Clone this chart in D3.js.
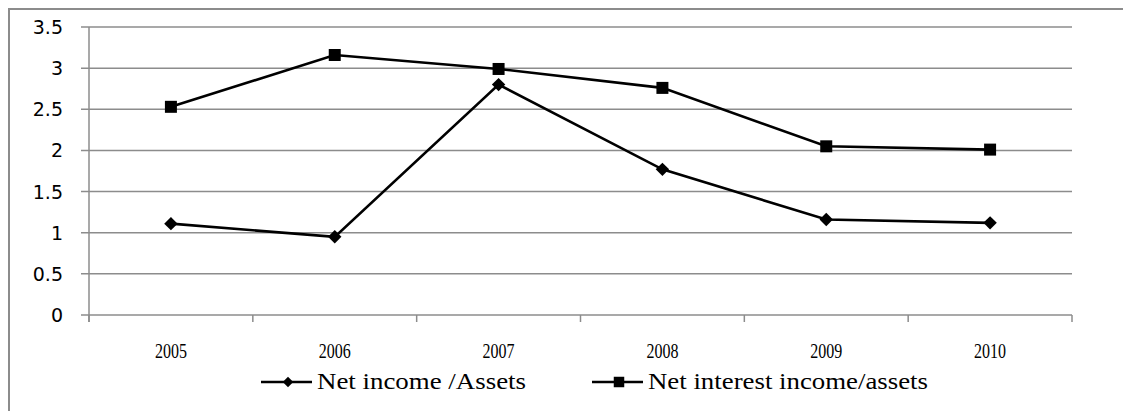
<!DOCTYPE html>
<meta charset="utf-8">
<style>
body { margin: 0; background: #fff; }
.grid line { stroke: #8c8c8c; stroke-width: 1.5; }
.ylab { font-family: "DejaVu Sans", sans-serif; font-size: 19px; fill: #000; }
.xlab { font-family: "Liberation Serif", "Times New Roman", serif; font-size: 22px; fill: #000; }
.leg { font-family: "Liberation Serif", "Times New Roman", serif; font-size: 23px; fill: #000; }
</style>
<svg width="1123" height="411"></svg>
<script src="https://cdn.jsdelivr.net/npm/d3@7"></script>
<script>

var years = ["2005", "2006", "2007", "2008", "2009", "2010"];
var netIncome = [1.11, 0.95, 2.80, 1.77, 1.16, 1.12];
var netInterest = [2.53, 3.16, 2.99, 2.76, 2.05, 2.01];
var yTicks = [0, 0.5, 1, 1.5, 2, 2.5, 3, 3.5];

var svg = d3.select("svg");

// outer frame (runs off the right and bottom edges)
svg.append("rect")
    .attr("x", 9).attr("y", 9)
    .attr("width", 1130).attr("height", 420)
    .attr("fill", "none")
    .attr("stroke", "#8c8c8c")
    .attr("stroke-width", 2);

var plotL = 89, plotR = 1072, plotT = 27, plotB = 315;

var x = d3.scaleBand().domain(years).range([plotL, plotR]);
var y = d3.scaleLinear().domain([0, 3.5]).range([plotB, plotT]);

// horizontal gridlines + left tick stubs
var grid = svg.append("g").attr("class", "grid");
grid.selectAll("line.h")
  .data(yTicks)
  .enter().append("line")
    .attr("class", "h")
    .attr("x1", plotL - 8)
    .attr("x2", plotR)
    .attr("y1", function(d) { return y(d); })
    .attr("y2", function(d) { return y(d); });

// y axis line
grid.append("line")
    .attr("x1", plotL).attr("x2", plotL)
    .attr("y1", plotT).attr("y2", plotB + 7);

// x tick marks at category boundaries
grid.selectAll("line.v")
  .data(d3.range(years.length + 1))
  .enter().append("line")
    .attr("class", "v")
    .attr("x1", function(i) { return plotL + i * x.step(); })
    .attr("x2", function(i) { return plotL + i * x.step(); })
    .attr("y1", plotB)
    .attr("y2", plotB + 7);

svg.selectAll("text.ylab")
  .data(yTicks)
  .enter().append("text")
    .attr("class", "ylab")
    .attr("x", 63)
    .attr("y", function(d) { return y(d) + 7; })
    .attr("text-anchor", "end")
    .text(function(d) { return d; });

svg.selectAll("text.xlab")
  .data(years)
  .enter().append("text")
    .attr("class", "xlab")
    .attr("x", function(d) { return x(d) + x.bandwidth() / 2; })
    .attr("y", 358)
    .attr("text-anchor", "middle")
    .attr("textLength", 32)
    .attr("lengthAdjust", "spacingAndGlyphs")
    .text(function(d) { return d; });

var cx = function(d, i) { return x(years[i]) + x.bandwidth() / 2; };

var line = d3.line()
    .x(cx)
    .y(function(d) { return y(d); });

// diamond = square turned 45 degrees
var diamond = d3.symbol().type(d3.symbolSquare).size(90);
var square = d3.symbol().type(d3.symbolSquare).size(144);

function series(data, sym, rot) {
  svg.append("path")
      .datum(data)
      .attr("d", line)
      .attr("fill", "none")
      .attr("stroke", "#000")
      .attr("stroke-width", 2.6);
  svg.append("g").selectAll("path")
    .data(data)
    .enter().append("path")
      .attr("d", sym)
      .attr("fill", "#000")
      .attr("transform", function(d, i) {
        return "translate(" + cx(d, i) + "," + y(d) + ") rotate(" + rot + ")";
      });
}

series(netIncome, diamond, 45);
series(netInterest, square, 0);

// legend
var legend = [
  {name: "Net income /Assets", sym: d3.symbol().type(d3.symbolSquare).size(55), rot: 45, x: 261, w: 209},
  {name: "Net interest income/assets", sym: d3.symbol().type(d3.symbolSquare).size(110), rot: 0, x: 592, w: 280}
];
var ly = 382;
legend.forEach(function(l) {
  svg.append("line")
      .attr("x1", l.x).attr("x2", l.x + 51)
      .attr("y1", ly).attr("y2", ly)
      .attr("stroke", "#000")
      .attr("stroke-width", 2.6);
  svg.append("path")
      .attr("d", l.sym())
      .attr("fill", "#000")
      .attr("transform", "translate(" + (l.x + 27) + "," + ly + ") rotate(" + l.rot + ")");
  svg.append("text")
      .attr("class", "leg")
      .attr("x", l.x + 56)
      .attr("y", ly + 7)
      .attr("textLength", l.w)
      .attr("lengthAdjust", "spacingAndGlyphs")
      .text(l.name);
});

</script>
